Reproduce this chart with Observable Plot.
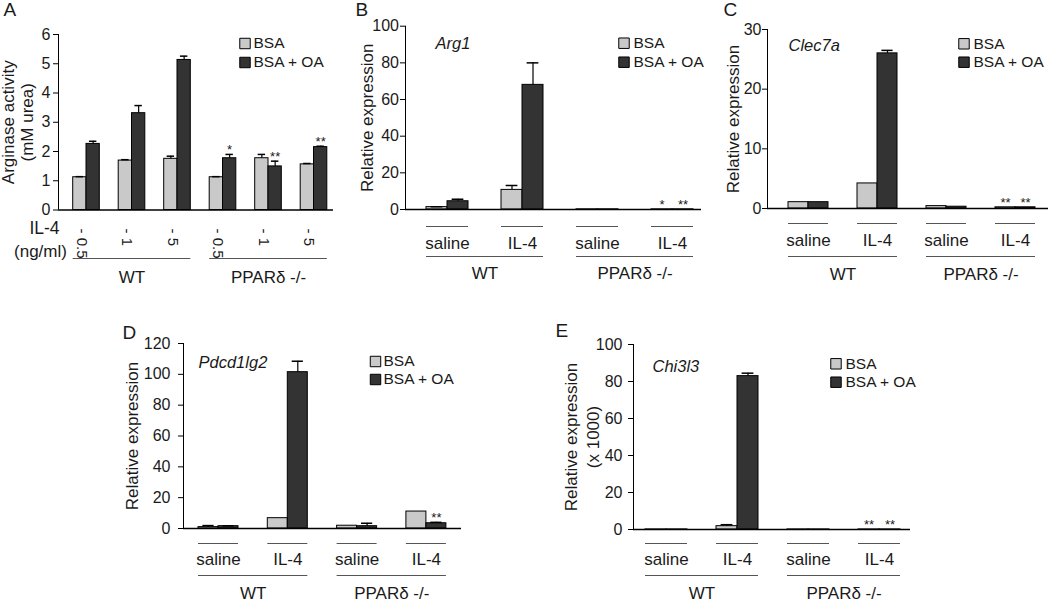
<!DOCTYPE html>
<html><head><meta charset="utf-8">
<script src="https://cdn.jsdelivr.net/npm/d3@7"></script>
<script src="https://cdn.jsdelivr.net/npm/@observablehq/plot@0.6"></script>
<style>
body{margin:0;background:#fff;}
#fig{position:relative;width:1050px;height:611px;overflow:hidden;background:#fff;}
#fig svg{position:absolute;left:0;top:0;}
</style></head><body><div id="fig"></div>
<script>
// ---------- data ----------
const series = ["BSA", "BSA + OA"];
const genotypes4 = ["WT", "WT", "PPARδ -/-", "PPARδ -/-"];
const treatments = ["saline", "IL-4", "saline", "IL-4"];

// Panel A: Arginase activity
const aDose = ["0.5", "1", "5", "0.5", "1", "5"];
const aGenotype = ["WT", "WT", "WT", "PPARδ -/-", "PPARδ -/-", "PPARδ -/-"];
const aBSA = [1.12, 1.69, 1.75, 1.12, 1.77, 1.56];
const aBSAerr = [0.02, 0.03, 0.09, 0.02, 0.13, 0.03];
const aOA = [2.26, 3.31, 5.13, 1.77, 1.49, 2.15];
const aOAerr = [0.09, 0.26, 0.13, 0.13, 0.18, 0.03];
const aBSAstar = ["", "", "", "", "", ""];
const aOAstar = ["", "", "", "*", "**", "**"];
const aTicks = [0, 1, 2, 3, 4, 5, 6];

// Panel B: Arg1
const bBSA = [1.3, 10.7, 0.1, 0.1];
const bBSAerr = [0.2, 2.4, 0, 0];
const bOA = [4.5, 68, 0.1, 0.1];
const bOAerr = [1.1, 12, 0, 0];
const bBSAstar = ["", "", "", "*"];
const bOAstar = ["", "", "", "**"];
const bTicks = [0, 20, 40, 60, 80, 100];

// Panel C: Clec7a
const cBSA = [1.06, 4.2, 0.4, 0.2];
const cBSAerr = [0, 0, 0, 0];
const cOA = [1.06, 26.0, 0.3, 0.2];
const cOAerr = [0, 0.5, 0, 0];
const cBSAstar = ["", "", "", "**"];
const cOAstar = ["", "", "", "**"];
const cTicks = [0, 10, 20, 30];

// Panel D: Pdcd1lg2
const dBSA = [0.9, 6.7, 1.8, 11];
const dBSAerr = [1.0, 0, 0, 0];
const dOA = [1.5, 101.4, 1.5, 3.4];
const dOAerr = [0.3, 7.1, 1.9, 0.6];
const dBSAstar = ["", "", "", ""];
const dOAstar = ["", "", "", "**"];
const dTicks = [0, 20, 40, 60, 80, 100, 120];

// Panel E: Chi3l3
const eBSA = [0.05, 1.8, 0.05, 0.05];
const eBSAerr = [0, 0.8, 0, 0];
const eOA = [0.05, 82.9, 0.05, 0.05];
const eOAerr = [0, 1.6, 0, 0];
const eBSAstar = ["", "", "", "**"];
const eOAstar = ["", "", "", "**"];
const eTicks = [0, 20, 40, 60, 80, 100];

// ---------- styling ----------
const LIGHT = "#c9c9c9", DARK = "#333333", INK = "#1a1a1a", GREY = "#555555";
const FONT = "'Liberation Sans', Arial, Helvetica, sans-serif";

function panel(cfg) {
  const L = cfg.layout;
  const ml = L.ml, top = L.top;
  const x0 = -(L.first - ml) / L.step;
  const x1 = x0 + (L.right - ml) / L.step;
  const hw = L.barW / L.step;
  const cap = hw * 0.28;
  const n = cfg.bsa.length;
  const idx = d3.range(n);
  const rows = [];
  idx.forEach(i => {
    rows.push({i, s: 0, v: cfg.bsa[i], e: cfg.bsaErr[i], star: cfg.bsaStar[i]});
    rows.push({i, s: 1, v: cfg.oa[i], e: cfg.oaErr[i], star: cfg.oaStar[i]});
  });
  const cx = d => d.i + (d.s ? hw / 2 : -hw / 2);
  const zero = () => 0;
  const errRows = rows.filter(d => d.e > 0);
  const geno = d3.groups(idx, i => cfg.genotype[i]).map(([g, is]) => ({g, a: d3.min(is), b: d3.max(is)}));
  const yMax = cfg.ticks[cfg.ticks.length - 1];

  const marks = [
    Plot.rect(rows.filter(d => d.s === 0), {x1: d => d.i - hw, x2: d => d.i, y1: zero, y2: "v", fill: LIGHT, stroke: "#000", strokeWidth: 1}),
    Plot.rect(rows.filter(d => d.s === 1), {x1: d => d.i, x2: d => d.i + hw, y1: zero, y2: "v", fill: DARK, stroke: "#000", strokeWidth: 1}),
    Plot.ruleX(errRows, {x: cx, y1: "v", y2: d => d.v + d.e, stroke: "#000", strokeWidth: 1.2}),
    Plot.ruleY(errRows, {y: d => d.v + d.e, x1: d => cx(d) - cap, x2: d => cx(d) + cap, stroke: "#000", strokeWidth: 1.5}),
    Plot.text(rows.filter(d => d.star), {x: cx, y: d => d.v + d.e, text: "star", lineAnchor: "bottom", dy: 0, fontSize: 13, fill: INK}),
    Plot.ruleY([0], {stroke: "#000", strokeWidth: 1.3}),
    Plot.ruleX([x0], {y1: zero, y2: () => yMax, stroke: "#000", strokeWidth: 1}),
    Plot.axisY(cfg.ticks, {tickSize: 5, tickPadding: L.tickPad, fontSize: 16, tickFormat: d => String(d), label: null, stroke: "#000", fill: INK}),
    Plot.text([cfg.ytitle], {text: d => d, frameAnchor: "left", rotate: -90, dx: cfg.titleX - ml, textAnchor: "middle", lineAnchor: "middle", fontSize: 17, lineHeight: cfg.titleLH || 1, fill: INK}),
    Plot.text([cfg.letter], {text: d => d, frameAnchor: "top-left", dx: cfg.letterPos[0] - ml, dy: cfg.letterPos[1] - top, textAnchor: "start", lineAnchor: "bottom", fontSize: 19, fill: INK}),
    ...series.map((s, k) => Plot.dot([s], {frameAnchor: "top-left", dx: cfg.legend.sq - ml, dy: cfg.legend.ys[k] - top, symbol: "square", r: 5.9, fill: k ? DARK : LIGHT, stroke: "#000", strokeWidth: 1})),
    ...series.map((s, k) => Plot.text([s], {text: d => d, frameAnchor: "top-left", dx: cfg.legend.tx - ml, dy: cfg.legend.ys[k] - top, textAnchor: "start", lineAnchor: "middle", fontSize: 15.5, fill: INK})),
    Plot.ruleY(geno, {y: zero, x1: d => d.a - hw, x2: d => d.b + hw, dy: cfg.below.long, stroke: GREY, strokeWidth: 1.2}),
    Plot.text(geno, {x: d => (d.a + d.b) / 2, y: zero, text: "g", dy: cfg.below.geno, fontSize: 17, fill: INK})
  ];
  if (cfg.gene) {
    marks.push(Plot.text([cfg.gene], {text: d => d, frameAnchor: "top-left", dx: cfg.genePos[0] - ml, dy: cfg.genePos[1] - top, textAnchor: "start", lineAnchor: "middle", fontSize: 16.5, fontStyle: "italic", fill: INK}));
  }
  if (cfg.treat) {
    marks.push(
      Plot.ruleY(idx, {y: zero, x1: i => i - hw, x2: i => i + hw, dy: cfg.below.short, stroke: GREY, strokeWidth: 1.2}),
      Plot.text(idx, {x: i => i, y: zero, text: i => cfg.treat[i], dy: cfg.below.label, fontSize: 17, fill: INK})
    );
  }
  if (cfg.dose) {
    marks.push(
      Plot.text(idx, {x: i => i, y: zero, text: i => "- " + cfg.dose[i], rotate: 90, textAnchor: "start", dy: cfg.below.dose, dx: -5, fontSize: 15, fill: INK}),
      Plot.text(["IL-4"], {text: d => d, frameAnchor: "bottom-left", dx: 44 - ml, dy: 233 - L.base, textAnchor: "middle", fontSize: 17.5, fill: INK}),
      Plot.text(["(ng/ml)"], {text: d => d, frameAnchor: "bottom-left", dx: 40 - ml, dy: 256 - L.base, textAnchor: "middle", fontSize: 17, fill: INK})
    );
  }
  return Plot.plot({
    width: 1050, height: 611,
    marginLeft: ml, marginRight: 1050 - L.right, marginTop: top, marginBottom: 611 - L.base,
    x: {domain: [x0, x1], axis: null},
    y: {domain: [0, yMax], axis: null},
    style: {background: "transparent", fontFamily: FONT, overflow: "visible", color: INK},
    marks
  });
}

const fig = document.getElementById("fig");

fig.appendChild(panel({
  letter: "A", letterPos: [3, 15],
  layout: {ml: 58, right: 333, top: 34, base: 209.5, first: 86, step: 45.5, barW: 13.3, tickPad: 3},
  bsa: aBSA, bsaErr: aBSAerr, oa: aOA, oaErr: aOAerr, bsaStar: aBSAstar, oaStar: aOAstar,
  ticks: aTicks, genotype: aGenotype, dose: aDose,
  ytitle: "Arginase activity\n(mM urea)", titleX: 17, titleLH: 1.08,
  legend: {sq: 244.5, ys: [43, 62], tx: 253},
  below: {dose: 18.5, long: 48.5, geno: 67.5}
}));

fig.appendChild(panel({
  letter: "B", letterPos: [355, 15],
  layout: {ml: 405, right: 701, top: 25.7, base: 209, first: 447, step: 75, barW: 21, tickPad: 1.5},
  bsa: bBSA, bsaErr: bBSAerr, oa: bOA, oaErr: bOAerr, bsaStar: bBSAstar, oaStar: bOAstar,
  ticks: bTicks, genotype: genotypes4, treat: treatments,
  gene: "Arg1", genePos: [435, 43],
  ytitle: "Relative expression", titleX: 367,
  legend: {sq: 623.5, ys: [42.7, 61.7], tx: 633},
  below: {short: 17, label: 34, long: 47, geno: 64}
}));

fig.appendChild(panel({
  letter: "C", letterPos: [723, 15],
  layout: {ml: 767, right: 1048, top: 29, base: 208, first: 808, step: 69, barW: 20, tickPad: 1},
  bsa: cBSA, bsaErr: cBSAerr, oa: cOA, oaErr: cOAerr, bsaStar: cBSAstar, oaStar: cOAstar,
  ticks: cTicks, genotype: genotypes4, treat: treatments,
  gene: "Clec7a", genePos: [788, 45],
  ytitle: "Relative expression", titleX: 733,
  legend: {sq: 963.5, ys: [43.3, 61.7], tx: 973},
  below: {short: 15, label: 32, long: 48, geno: 66}
}));

fig.appendChild(panel({
  letter: "D", letterPos: [122, 338],
  layout: {ml: 183, right: 461, top: 343, base: 528, first: 218, step: 69.3, barW: 20, tickPad: 8},
  bsa: dBSA, bsaErr: dBSAerr, oa: dOA, oaErr: dOAerr, bsaStar: dBSAstar, oaStar: dOAstar,
  ticks: dTicks, genotype: genotypes4, treat: treatments,
  gene: "Pdcd1lg2", genePos: [198, 362],
  ytitle: "Relative expression", titleX: 132,
  legend: {sq: 375, ys: [361, 379], tx: 383},
  below: {short: 15, label: 31, long: 47, geno: 65}
}));

fig.appendChild(panel({
  letter: "E", letterPos: [555, 336],
  layout: {ml: 633, right: 910, top: 344, base: 529, first: 666, step: 71, barW: 21, tickPad: 6},
  bsa: eBSA, bsaErr: eBSAerr, oa: eOA, oaErr: eOAerr, bsaStar: eBSAstar, oaStar: eOAstar,
  ticks: eTicks, genotype: genotypes4, treat: treatments,
  gene: "Chi3l3", genePos: [652, 366],
  ytitle: "Relative expression\n(x 1000)", titleX: 580, titleLH: 1.3,
  legend: {sq: 835.5, ys: [363.3, 381.7], tx: 845},
  below: {short: 14, label: 30, long: 46, geno: 64}
}));
</script>
</body></html>
